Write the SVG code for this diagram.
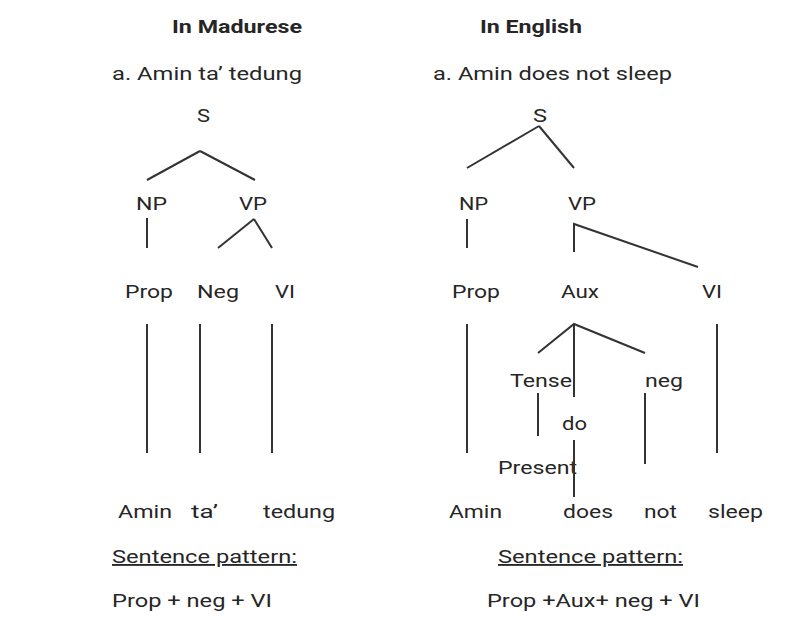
<svg xmlns="http://www.w3.org/2000/svg" width="809" height="634" viewBox="0 0 809 634">
<style>
text{font-family:Roboto,"Liberation Sans",sans-serif;font-size:18.5px;fill:#262626}
.b{font-weight:bold}
.u{text-decoration:underline}
#connectors line,#connectors polyline{stroke:#333;stroke-width:2;fill:none;stroke-linecap:butt}
</style>
<rect width="809" height="634" fill="#fff"/>
<g id="headings">
<text class="b" x="172" y="33" textLength="130" lengthAdjust="spacingAndGlyphs">In Madurese</text>
<text class="b" x="480" y="33" textLength="102" lengthAdjust="spacingAndGlyphs">In English</text>
<text x="112" y="80" textLength="190" lengthAdjust="spacingAndGlyphs">a. Amin ta’ tedung</text>
<text x="433" y="80" textLength="239" lengthAdjust="spacingAndGlyphs">a. Amin does not sleep</text>
</g>
<g id="m-S"><text x="197" y="122" textLength="13" lengthAdjust="spacingAndGlyphs">S</text></g>
<g id="m-NP"><text x="136" y="210" textLength="31" lengthAdjust="spacingAndGlyphs">NP</text></g>
<g id="m-VP"><text x="239" y="210" textLength="28" lengthAdjust="spacingAndGlyphs">VP</text></g>
<g id="m-Prop"><text x="125" y="298" textLength="48" lengthAdjust="spacingAndGlyphs">Prop</text></g>
<g id="m-Neg"><text x="197" y="298" textLength="42" lengthAdjust="spacingAndGlyphs">Neg</text></g>
<g id="m-VI"><text x="275" y="298" textLength="20" lengthAdjust="spacingAndGlyphs">VI</text></g>
<g id="m-Amin"><text x="118" y="518" textLength="54" lengthAdjust="spacingAndGlyphs">Amin</text></g>
<g id="m-ta"><text x="191" y="518" textLength="27" lengthAdjust="spacingAndGlyphs">ta’</text></g>
<g id="m-tedung"><text x="263" y="518" textLength="72" lengthAdjust="spacingAndGlyphs">tedung</text></g>
<g id="m-pattern">
<text class="u" x="112" y="563" textLength="185" lengthAdjust="spacingAndGlyphs">Sentence pattern:</text>
<text x="112" y="607" textLength="160" lengthAdjust="spacingAndGlyphs">Prop + neg + VI</text>
</g>
<g id="e-S"><text x="533" y="122" textLength="14" lengthAdjust="spacingAndGlyphs">S</text></g>
<g id="e-NP"><text x="459" y="210" textLength="29" lengthAdjust="spacingAndGlyphs">NP</text></g>
<g id="e-VP"><text x="568" y="210" textLength="28" lengthAdjust="spacingAndGlyphs">VP</text></g>
<g id="e-Prop"><text x="452" y="298" textLength="48" lengthAdjust="spacingAndGlyphs">Prop</text></g>
<g id="e-Aux"><text x="561" y="298" textLength="38" lengthAdjust="spacingAndGlyphs">Aux</text></g>
<g id="e-VI"><text x="702" y="298" textLength="20" lengthAdjust="spacingAndGlyphs">VI</text></g>
<g id="e-Tense"><text x="510" y="387" textLength="62" lengthAdjust="spacingAndGlyphs">Tense</text></g>
<g id="e-neg"><text x="645" y="387" textLength="38" lengthAdjust="spacingAndGlyphs">neg</text></g>
<g id="e-do"><text x="562" y="430" textLength="25" lengthAdjust="spacingAndGlyphs">do</text></g>
<g id="e-Present"><text x="498" y="474" textLength="79" lengthAdjust="spacingAndGlyphs">Present</text></g>
<g id="e-Amin"><text x="449" y="518" textLength="53" lengthAdjust="spacingAndGlyphs">Amin</text></g>
<g id="e-does"><text x="563" y="518" textLength="50" lengthAdjust="spacingAndGlyphs">does</text></g>
<g id="e-not"><text x="644" y="518" textLength="33" lengthAdjust="spacingAndGlyphs">not</text></g>
<g id="e-sleep"><text x="708" y="518" textLength="55" lengthAdjust="spacingAndGlyphs">sleep</text></g>
<g id="e-pattern">
<text class="u" x="498" y="563" textLength="185" lengthAdjust="spacingAndGlyphs">Sentence pattern:</text>
<text x="487" y="607" textLength="213" lengthAdjust="spacingAndGlyphs">Prop +Aux+ neg + VI</text>
</g>
<g id="connectors">
<line x1="200" y1="151" x2="147" y2="180"/>
<line x1="200" y1="151" x2="255" y2="180"/>
<line x1="147" y1="218" x2="147" y2="248"/>
<line x1="254" y1="219" x2="218" y2="248"/>
<line x1="254" y1="219" x2="272" y2="248"/>
<line x1="147" y1="324" x2="147" y2="453"/>
<line x1="200" y1="324" x2="200" y2="453"/>
<line x1="272" y1="324" x2="272" y2="453"/>
<line x1="539" y1="126" x2="467" y2="168"/>
<line x1="539" y1="126" x2="574" y2="168"/>
<line x1="467" y1="219" x2="467" y2="248"/>
<polyline points="574,252 574,224 698,267"/>
<line x1="467" y1="324" x2="467" y2="453"/>
<line x1="717" y1="324" x2="717" y2="453"/>
<polyline points="538,353 574,324 645,353"/>
<line x1="574" y1="324" x2="574" y2="397"/>
<line x1="538" y1="393" x2="538" y2="436"/>
<line x1="574" y1="440" x2="574" y2="497"/>
<line x1="645" y1="393" x2="645" y2="464"/>
</g>
</svg>
